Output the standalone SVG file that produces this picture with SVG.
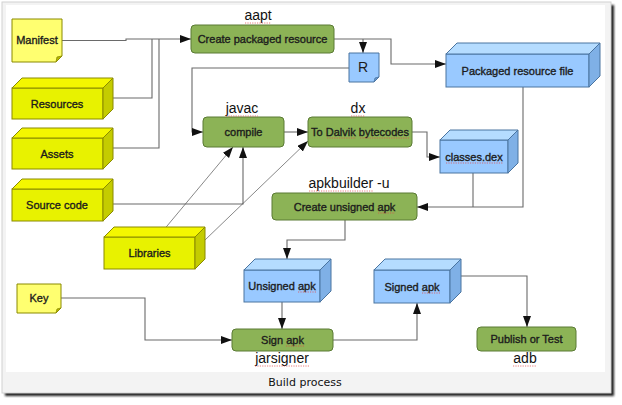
<svg xmlns="http://www.w3.org/2000/svg" width="622" height="405" viewBox="0 0 622 405">
<defs>
<filter id="sh" x="-5%" y="-5%" width="110%" height="110%"><feGaussianBlur stdDeviation="1.3"/></filter>
<marker id="ar" markerUnits="userSpaceOnUse" markerWidth="12" markerHeight="10" refX="11" refY="4" orient="auto">
<path d="M0 0 L11 4 L0 8 Z" fill="#111"/>
</marker>
<style>
.t{font-family:"Liberation Sans",Arial,sans-serif;font-size:11px;fill:#1c1c1c;stroke:#1c1c1c;stroke-width:0.35;text-anchor:middle}
.l{font-family:"Liberation Sans",Arial,sans-serif;font-size:14px;fill:#111;text-anchor:middle}
.yf{fill:#e8f200;stroke:#8a8a00;stroke-width:1}
.yt{fill:#f4f700;stroke:#8a8a00;stroke-width:1}
.ys{fill:#c4cc00;stroke:#8a8a00;stroke-width:1}
.yn{fill:#ffff70;stroke:#8a8a00;stroke-width:1}
.bf{fill:#99c9ff;stroke:#4a74a0;stroke-width:1}
.bt{fill:#b5dcff;stroke:#4a74a0;stroke-width:1}
.bs{fill:#7fb0e6;stroke:#4a74a0;stroke-width:1}
.g{fill:#8cb356;stroke:#5a7a34;stroke-width:1}
.c{fill:none;stroke:#6a6a6a;stroke-width:1.1}
.ca{fill:none;stroke:#6a6a6a;stroke-width:1.1;marker-end:url(#ar)}
.cl{fill:none;stroke:#555;stroke-width:0.7;marker-end:url(#ar)}
.sp{fill:none;stroke:#e04848;stroke-width:0.9;stroke-dasharray:1.2 1.2;opacity:0.8}
</style>
</defs>
<rect x="0" y="0" width="622" height="405" fill="#fff"/>
<rect x="5" y="5" width="609" height="391" fill="#222" filter="url(#sh)"/>
<rect x="2" y="2" width="609" height="391" fill="#f3f3f3" stroke="#d2d2d2"/>
<rect x="6" y="5" width="599" height="367" fill="#fff"/>
<text x="305" y="386" font-family="DejaVu Sans,sans-serif" font-size="11" fill="#111" text-anchor="middle">Build process</text>

<g id="connectors">
<path class="ca" d="M62 40.5 H126 V39 H191"/>
<path class="c" d="M103 98 H152 V39"/>
<path class="c" d="M103 148 H159 V39"/>
<path class="ca" d="M103 204 H243 V147"/>
<path class="cl" d="M162 232 L233 147"/>
<path class="cl" d="M205 240 L308 141"/>
<path class="ca" d="M349 68 H192 V132 H203"/>
<path class="ca" d="M334 39 H391 V64 H446"/>
<path class="ca" d="M363 39 V53"/>
<path class="ca" d="M284 132 H308"/>
<path class="ca" d="M412 132 H427 V157 H440"/>
<path class="c" d="M473 173 V207"/>
<path class="ca" d="M523 87 V207 H417"/>
<path class="ca" d="M345 220 V240 H287 V259"/>
<path class="ca" d="M282 302 V329"/>
<path class="ca" d="M61 298 H145 V340 H232"/>
<path class="ca" d="M333 340 H417 V303"/>
<path class="ca" d="M461 276 H527 V327"/>
</g>

<g id="manifest">
<path class="yn" d="M12 19 H62 V56 L56 62 H12 Z"/>
<path d="M56 62 L57 57 L62 56 Z" fill="#b8b800" stroke="#8a8a00" stroke-width="0.8"/>
<text class="t" x="37" y="44">Manifest</text>
</g>
<g id="resources">
<rect class="yf" x="12" y="88" width="91" height="31"/>
<path class="yt" d="M12 88 L22 78 H113 L103 88 Z"/>
<path class="ys" d="M103 88 L113 78 V109 L103 119 Z"/>
<text class="t" x="57" y="108">Resources</text>
</g>
<g id="assets">
<rect class="yf" x="12" y="138" width="91" height="31"/>
<path class="yt" d="M12 138 L22 128 H113 L103 138 Z"/>
<path class="ys" d="M103 138 L113 128 V159 L103 169 Z"/>
<text class="t" x="57" y="158">Assets</text>
</g>
<g id="sourcecode">
<rect class="yf" x="12" y="189" width="91" height="32"/>
<path class="yt" d="M12 189 L22 179 H113 L103 189 Z"/>
<path class="ys" d="M103 189 L113 179 V211 L103 221 Z"/>
<text class="t" x="57" y="209">Source code</text>
</g>
<g id="libraries">
<rect class="yf" x="104" y="237" width="91" height="32"/>
<path class="yt" d="M104 237 L114 227 H205 L195 237 Z"/>
<path class="ys" d="M195 237 L205 227 V259 L195 269 Z"/>
<text class="t" x="149.5" y="257">Libraries</text>
</g>
<g id="key">
<path class="yn" d="M17 284 H61 V308 L56 313 H17 Z"/>
<path d="M56 313 L57 309 L61 308 Z" fill="#b8b800" stroke="#8a8a00" stroke-width="0.8"/>
<text class="t" x="39" y="302">Key</text>
</g>

<g id="aapt">
<rect class="g" x="191" y="25" width="143" height="28" rx="4"/>
<text class="t" x="262.5" y="43">Create packaged resource</text>
<text class="l" x="258" y="20">aapt</text>
<path class="sp" d="M245 23 H271"/>
</g>
<g id="r">
<path class="bf" d="M349 53 H379 V77 L374 82 H349 Z"/>
<path d="M374 82 L375 78 L379 77 Z" fill="#6a9ad0" stroke="#4a74a0" stroke-width="0.8"/>
<text x="363" y="72" font-family="Liberation Sans,Arial,sans-serif" font-size="14" fill="#1c1c1c" text-anchor="middle">R</text>
</g>
<g id="packaged">
<rect class="bf" x="446" y="54" width="143" height="33"/>
<path class="bt" d="M446 54 L457 43 H600 L589 54 Z"/>
<path class="bs" d="M589 54 L600 43 V76 L589 87 Z"/>
<text class="t" x="517.5" y="75">Packaged resource file</text>
</g>
<g id="javac">
<rect class="g" x="203" y="117" width="81" height="30" rx="4"/>
<text class="t" x="243.5" y="136">compile</text>
<text class="l" x="242" y="113">javac</text>
<path class="sp" d="M226 116 H258"/>
</g>
<g id="dx">
<rect class="g" x="308" y="117" width="104" height="30" rx="4"/>
<text class="t" x="360" y="136">To Dalvik bytecodes</text>
<text class="l" x="358" y="113">dx</text>
<path class="sp" d="M351 116 H365 M327 138 H356 M360 138 H409"/>
</g>
<g id="classes">
<rect class="bf" x="440" y="140" width="68" height="33"/>
<path class="bt" d="M440 140 L450 130 H518 L508 140 Z"/>
<path class="bs" d="M508 140 L518 130 V163 L508 173 Z"/>
<text class="t" x="474" y="161">classes.dex</text>
<path class="sp" d="M446 163 H503"/>
</g>
<g id="apkbuilder">
<rect class="g" x="272" y="193" width="145" height="27" rx="4"/>
<text class="t" x="344.5" y="210.5">Create unsigned apk</text>
<text class="l" x="349" y="188">apkbuilder -u</text>
<path class="sp" d="M309 191 H373 M378 213 H395"/>
</g>
<g id="unsigned">
<rect class="bf" x="244" y="270" width="76" height="32"/>
<path class="bt" d="M244 270 L255 259 H331 L320 270 Z"/>
<path class="bs" d="M320 270 L331 259 V291 L320 302 Z"/>
<text class="t" x="282" y="290">Unsigned apk</text>
<path class="sp" d="M298 292 H316"/>
</g>
<g id="signed">
<rect class="bf" x="374" y="270" width="76" height="33"/>
<path class="bt" d="M374 270 L385 259 H461 L450 270 Z"/>
<path class="bs" d="M450 270 L461 259 V292 L450 303 Z"/>
<text class="t" x="412" y="291">Signed apk</text>
<path class="sp" d="M422 293 H440"/>
</g>
<g id="jarsigner">
<rect class="g" x="232" y="329" width="101" height="22" rx="4"/>
<text class="t" x="282.5" y="344">Sign apk</text>
<text class="l" x="282" y="363">jarsigner</text>
<path class="sp" d="M286 346 H304 M255 366 H309"/>
</g>
<g id="adb">
<rect class="g" x="477" y="327" width="99" height="24" rx="4"/>
<text class="t" x="526.5" y="343">Publish or Test</text>
<text class="l" x="525" y="363">adb</text>
<path class="sp" d="M513 366 H537"/>
</g>
</svg>
